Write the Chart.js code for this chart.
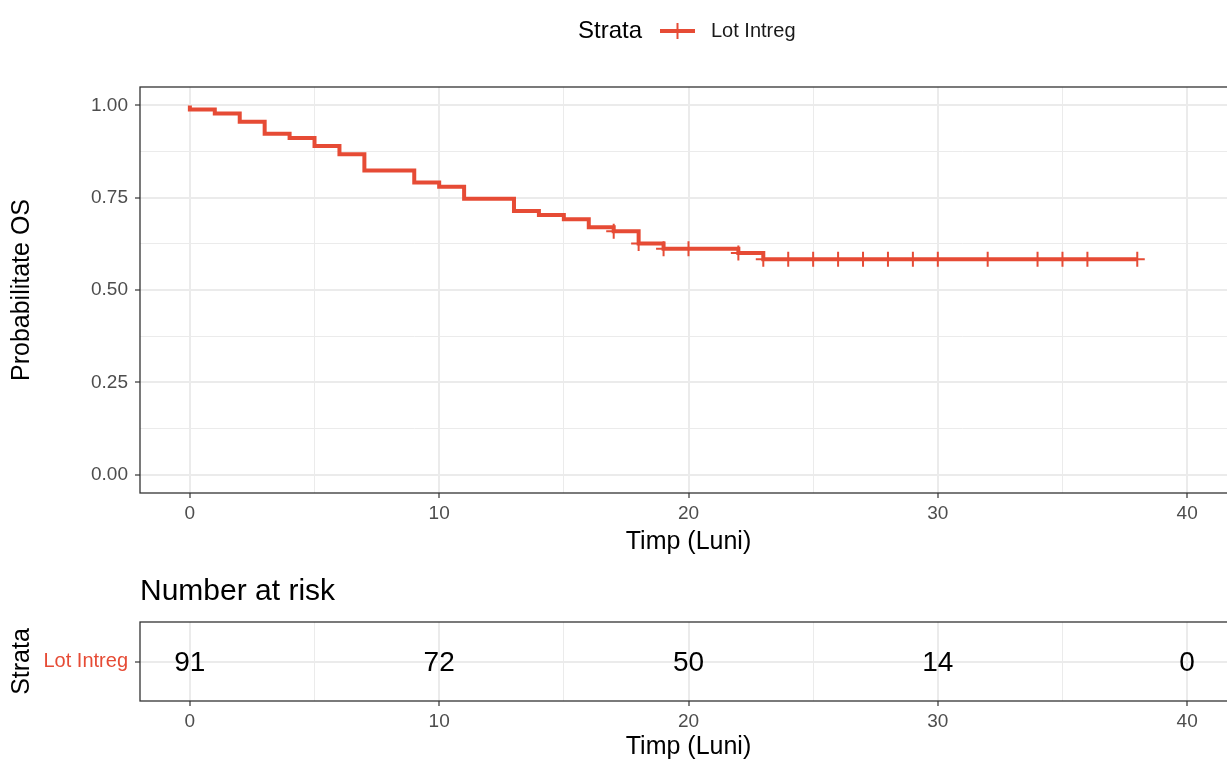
<!DOCTYPE html>
<html>
<head>
<meta charset="utf-8">
<script src="https://cdn.jsdelivr.net/npm/chart.js@4.4.1/dist/chart.umd.min.js"></script>
<style>
  html, body { margin: 0; padding: 0; background: #ffffff; overflow: hidden; }
  #page { position: relative; width: 1227px; height: 762px; overflow: hidden; }
  #km-box { position: absolute; left: 0; top: 0; }
  #risk-box { position: absolute; left: 0; top: 560px; }
</style>
</head>
<body>
<div id="page">
  <div id="km-box"><canvas id="km-chart" width="1240" height="560"></canvas></div>
  <div id="risk-box"><canvas id="risk-chart" width="1240" height="202"></canvas></div>
</div>
<script>
// survival curve (time in months, probability)
const kmTimes = [0, 0, 1, 2, 3, 4, 5, 6, 7, 9, 10, 11, 13, 14, 15, 16, 17, 18, 19, 22, 23, 38];
const kmSurv = [1.000, 0.989, 0.978, 0.956, 0.923, 0.912, 0.890, 0.868, 0.824, 0.791, 0.780,
  0.747, 0.714, 0.703, 0.692, 0.670, 0.659, 0.626, 0.612, 0.600, 0.583, 0.583];

// censored observations
const censorTimes = [17, 18, 19, 20, 22, 23, 24, 25, 26, 27, 28, 29, 30, 32, 34, 35, 36, 38];
const censorSurv = [0.659, 0.626, 0.612, 0.612, 0.600, 0.583, 0.583, 0.583, 0.583, 0.583,
  0.583, 0.583, 0.583, 0.583, 0.583, 0.583, 0.583, 0.583];

// number at risk table
const strataNames = ["Lot Intreg"];
const riskTimes = [0, 10, 20, 30, 40];
const riskCounts = [91, 72, 50, 14, 0];

// axes
const xTicks = [0, 10, 20, 30, 40];
const xMinorTicks = [5, 15, 25, 35];
const yTicks = [0, 0.25, 0.5, 0.75, 1];
const yMinorTicks = [0.125, 0.375, 0.625, 0.875];

const RED = "#E64B35";
const FONT = "'Liberation Sans', Arial, sans-serif";
const GRID = "#ebebeb";

function isIn(list, v) {
  return list.some((t) => Math.abs(t - v) < 1e-9);
}

function gridOpts(majors) {
  return {
    color: GRID,
    lineWidth: (ctx) => (ctx.tick && isIn(majors, ctx.tick.value) ? 2 : 1),
    drawTicks: true,
    tickLength: 5,
    tickWidth: 1.2,
    tickColor: (ctx) =>
      ctx.tick && isIn(majors, ctx.tick.value) ? "#333333" : "rgba(0,0,0,0)",
  };
}

function xScale(height, titlePad) {
  return {
    type: "linear",
    min: -2,
    max: 42,
    afterBuildTicks: (scale) => {
      scale.ticks = xTicks.concat(xMinorTicks).sort((a, b) => a - b).map((v) => ({ value: v }));
    },
    afterFit: (scale) => {
      scale.height = height;
    },
    border: { display: false },
    grid: gridOpts(xTicks),
    ticks: {
      padding: 4,
      maxRotation: 0,
      autoSkip: false,
      color: "#4d4d4d",
      font: { family: FONT, size: 19 },
      callback: (v) => (isIn(xTicks, v) ? String(v) : ""),
    },
    title: {
      display: true,
      text: "Timp (Luni)",
      color: "#000000",
      font: { family: FONT, size: 25 },
      padding: { top: 0, bottom: titlePad },
    },
  };
}

// frame around the panel
const framePlugin = {
  id: "frame",
  afterDraw(chart) {
    const { ctx, chartArea } = chart;
    ctx.save();
    ctx.strokeStyle = "#333333";
    ctx.lineWidth = 1.3;
    ctx.strokeRect(chartArea.left, chartArea.top, chartArea.right - chartArea.left, chartArea.bottom - chartArea.top);
    ctx.restore();
  },
};

const legendPlugin = {
  id: "kmLegend",
  afterDraw(chart) {
    const ctx = chart.ctx;
    ctx.save();
    ctx.textBaseline = "middle";
    ctx.textAlign = "left";
    ctx.fillStyle = "#000000";
    ctx.font = "24px " + FONT;
    ctx.fillText("Strata", 578, 31);
    ctx.strokeStyle = RED;
    ctx.lineWidth = 4;
    ctx.beginPath();
    ctx.moveTo(660, 31);
    ctx.lineTo(695, 31);
    ctx.stroke();
    ctx.lineWidth = 2;
    ctx.beginPath();
    ctx.moveTo(677.5, 23);
    ctx.lineTo(677.5, 39);
    ctx.stroke();
    ctx.font = "20px " + FONT;
    ctx.fillStyle = "#1a1a1a";
    ctx.fillText(strataNames[0], 711, 31);
    ctx.restore();
  },
};

new Chart(document.getElementById("km-chart").getContext("2d"), {
  type: "line",
  data: {
    datasets: [
      {
        label: strataNames[0],
        data: kmTimes.map((t, i) => ({ x: t, y: kmSurv[i] })),
        stepped: "before",
        borderColor: RED,
        borderWidth: 4,
        pointRadius: 0,
        fill: false,
        order: 2,
      },
      {
        type: "scatter",
        label: "censor",
        data: censorTimes.map((t, i) => ({ x: t, y: censorSurv[i] })),
        showLine: false,
        pointStyle: "cross",
        pointRadius: 7.5,
        pointBorderWidth: 2,
        borderColor: RED,
        backgroundColor: RED,
        order: 1,
      },
    ],
  },
  options: {
    responsive: false,
    animation: false,
    layout: { autoPadding: false, padding: { top: 87, right: 3, bottom: 0, left: 0 } },
    plugins: {
      legend: { display: false },
      tooltip: { enabled: false },
    },
    scales: {
      x: xScale(67, 3),
      y: {
        type: "linear",
        min: -0.05,
        max: 1.05,
        afterBuildTicks: (scale) => {
          scale.ticks = yTicks.concat(yMinorTicks).sort((a, b) => a - b).map((v) => ({ value: v }));
        },
        afterFit: (scale) => {
          scale.width = 140;
        },
        border: { display: false },
        grid: gridOpts(yTicks),
        ticks: {
          padding: 7,
          autoSkip: false,
          color: "#4d4d4d",
          font: { family: FONT, size: 19 },
          callback: (v) => (isIn(yTicks, v) ? v.toFixed(2) : ""),
        },
        title: {
          display: true,
          text: "Probabilitate OS",
          color: "#000000",
          font: { family: FONT, size: 25 },
          padding: { top: 7, bottom: 0 },
        },
      },
    },
  },
  plugins: [framePlugin, legendPlugin],
});

// Number at risk table
const riskPlugin = {
  id: "riskText",
  afterDraw(chart) {
    const ctx = chart.ctx;
    const xs = chart.scales.x;
    const ys = chart.scales.y;
    ctx.save();
    ctx.fillStyle = "#000000";
    ctx.textBaseline = "middle";
    ctx.textAlign = "left";
    ctx.font = "30px " + FONT;
    ctx.fillText("Number at risk", chart.chartArea.left, 32);
    ctx.textAlign = "center";
    ctx.font = "28px " + FONT;
    riskTimes.forEach((t, i) => {
      ctx.fillText(String(riskCounts[i]), xs.getPixelForValue(t), ys.getPixelForValue(1) + 1.5);
    });
    ctx.restore();
  },
};

new Chart(document.getElementById("risk-chart").getContext("2d"), {
  type: "line",
  data: { datasets: [] },
  options: {
    responsive: false,
    animation: false,
    layout: { autoPadding: false, padding: { top: 62, right: 3, bottom: 0, left: 0 } },
    plugins: {
      legend: { display: false },
      tooltip: { enabled: false },
    },
    scales: {
      x: xScale(61, 0),
      y: {
        type: "linear",
        min: 0,
        max: 2,
        afterBuildTicks: (scale) => {
          scale.ticks = [{ value: 1 }];
        },
        afterFit: (scale) => {
          scale.width = 140;
        },
        border: { display: false },
        grid: gridOpts([1]),
        ticks: {
          padding: 7,
          color: RED,
          font: { family: FONT, size: 20 },
          callback: () => strataNames[0],
        },
        title: {
          display: true,
          text: "Strata",
          color: "#000000",
          font: { family: FONT, size: 25 },
          padding: { top: 7, bottom: 0 },
        },
      },
    },
  },
  plugins: [framePlugin, riskPlugin],
});
</script>
</body>
</html>
